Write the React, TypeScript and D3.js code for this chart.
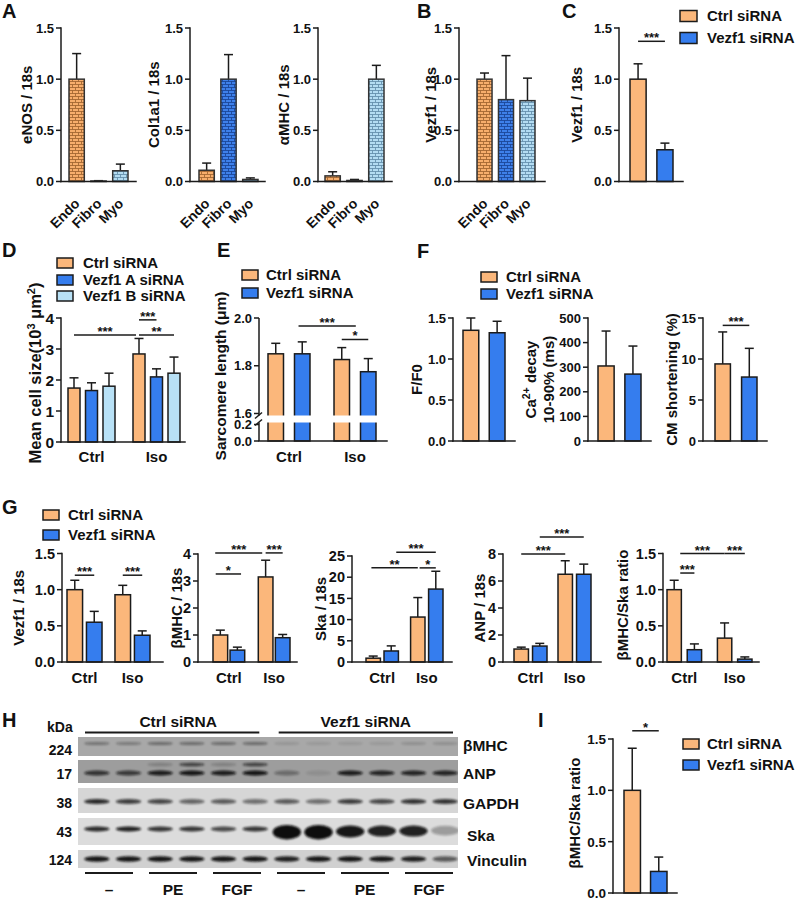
import React from 'react';
import * as d3 from 'd3';

const FONT = '"Liberation Sans", Arial, Helvetica, sans-serif';
const ORANGE = '#FBB77B';
const BLUE = '#357DEE';
const LIGHT = '#B8E1F6';
const INK = '#1b1b1b';

// ---------------- data ----------------
const cellTypes = ['Endo', 'Fibro', 'Myo'];
const eNOSMean = [1.0, 0.005, 0.105];
const eNOSSd = [0.25, 0.003, 0.065];
const col1a1Mean = [0.11, 1.0, 0.02];
const col1a1Sd = [0.07, 0.24, 0.015];
const aMHCMean = [0.055, 0.01, 1.0];
const aMHCSd = [0.04, 0.01, 0.135];
const vezf1CellMean = [1.0, 0.8, 0.79];
const vezf1CellSd = [0.06, 0.43, 0.22];

const siRNAs = ['Ctrl siRNA', 'Vezf1 siRNA'];
const cVezf1Mean = [1.0, 0.31];
const cVezf1Sd = [0.15, 0.065];

const treatments = ['Ctrl', 'Iso'];
const dSiRNAs = ['Ctrl siRNA', 'Vezf1 A siRNA', 'Vezf1 B siRNA'];
const dCtrlSi = [1.74, 2.84];
const dCtrlSiSd = [0.33, 0.5];
const dVezf1A = [1.66, 2.1];
const dVezf1ASd = [0.25, 0.26];
const dVezf1B = [1.8, 2.22];
const dVezf1BSd = [0.42, 0.52];

const eCtrlSi = [1.85, 1.826];
const eCtrlSiSd = [0.044, 0.05];
const eVezf1 = [1.85, 1.775];
const eVezf1Sd = [0.05, 0.055];

const fF0Mean = [1.35, 1.32];
const fF0Sd = [0.15, 0.14];
const caDecayMean = [305, 272];
const caDecaySd = [142, 114];
const cmShortMean = [9.4, 7.8];
const cmShortSd = [3.9, 3.5];

const gVezf1Ctrl = [1.0, 0.93];
const gVezf1CtrlSd = [0.13, 0.13];
const gVezf1Kd = [0.55, 0.37];
const gVezf1KdSd = [0.15, 0.06];
const gBmhcCtrl = [1.0, 3.15];
const gBmhcCtrlSd = [0.18, 0.62];
const gBmhcKd = [0.44, 0.9];
const gBmhcKdSd = [0.11, 0.12];
const gSkaCtrl = [0.9, 10.6];
const gSkaCtrlSd = [0.5, 4.6];
const gSkaKd = [2.6, 17.2];
const gSkaKdSd = [1.2, 4.2];
const gAnpCtrl = [0.96, 6.5];
const gAnpCtrlSd = [0.14, 1.0];
const gAnpKd = [1.18, 6.5];
const gAnpKdSd = [0.2, 0.75];
const gRatioCtrl = [1.0, 0.33];
const gRatioCtrlSd = [0.13, 0.21];
const gRatioKd = [0.17, 0.04];
const gRatioKdSd = [0.08, 0.03];

const iRatioMean = [1.0, 0.21];
const iRatioSd = [0.41, 0.14];

const ticks15 = [0, 0.5, 1, 1.5];
const ticksD = [0, 1, 2, 3, 4];
const ticksE = [0, 0.2, 1.6, 1.8, 2.0];
const ticksCa = [0, 100, 200, 300, 400, 500];
const ticksCm = [0, 5, 10, 15];
const ticksBmhc = [0, 1, 2, 3, 4];
const ticksSka = [0, 5, 10, 15, 20, 25];
const ticksAnp = [0, 2, 4, 6, 8];

// western blot
const blotTreatments = ['–', 'PE', 'FGF', '–', 'PE', 'FGF'];
const bMHCBand = [0.35, 0.3, 0.4, 0.4, 0.4, 0.4, 0.12, 0.1, 0.1, 0.1, 0.16, 0.16];
const anpBand = [0.75, 0.7, 0.9, 0.95, 0.9, 0.95, 0.35, 0.1, 0.9, 0.85, 0.85, 0.85];
const anpUpperBand = [0, 0, 0.2, 0.65, 0.2, 0.65, 0, 0, 0, 0, 0, 0];
const gapdhBand = [0.85, 0.75, 0.7, 0.55, 0.6, 0.5, 0.6, 0.5, 0.75, 0.7, 0.8, 0.8];
const skaBand = [0.85, 0.9, 0.8, 0.8, 0.7, 0.8, 1, 1, 0.95, 0.9, 0.9, 0.3];
const skaThickness = [1, 1, 1, 1, 1, 1, 3.0, 3.0, 2.5, 2.3, 2.3, 2.0];
const vinculinBand = [0.95, 0.95, 0.95, 0.95, 0.95, 0.95, 0.9, 0.95, 0.95, 0.95, 0.9, 0.6];

const fmt1 = d3.format('.1f');
const fmt0 = d3.format('d');

type Sig = [number, number, number, string];

interface ChartProps {
  axisX: number;
  axisEnd: number;
  y: d3.ScaleLinear<number, number>;
  ticks: number[];
  fmt: (v: number) => string;
  tickFs?: number;
  groups: string[];
  series: string[];
  means: number[][];
  sds: number[][];
  fills: string[];
  barStroke?: string;
  groupRange: [number, number];
  groupPad?: number;
  innerPad: number;
  sig?: Sig[];
  yLabel: React.ReactNode;
  yLabelX: number;
  yLabelY?: number;
  yLabel2?: React.ReactNode;
  yLabelX2?: number;
  labelFs?: number;
  xLabels?: 'group' | 'rotated';
  xLabelY?: number;
  xFs?: number;
  gap?: [number, number];
}

function Chart(p: ChartProps) {
  const outer = d3.scaleBand<string>().domain(p.groups).range(p.groupRange).paddingInner(p.groupPad ?? 0).paddingOuter(0);
  const inner = d3.scaleBand<string>().domain(p.series).range([0, outer.bandwidth()]).paddingInner(p.innerPad).paddingOuter(0);
  const bars = p.groups.flatMap((g, gi) =>
    p.series.map((s, si) => ({
      key: g + '|' + s,
      x: (outer(g) ?? 0) + (inner(s) ?? 0),
      w: inner.bandwidth(),
      v: p.means[si][gi],
      e: p.sds[si][gi],
      fill: p.fills[si],
      label: s,
    }))
  );
  const centers = bars.map((b) => b.x + b.w / 2);
  const at = d3.scaleLinear().domain(centers.map((_, i) => i)).range(centers);
  const y0 = p.y(0);
  const yT = p.y(p.ticks[p.ticks.length - 1]);
  const tfs = p.tickFs ?? 13;
  const lfs = p.labelFs ?? 15;
  const yLabelY = p.yLabelY ?? (y0 + yT) / 2;
  const gapY = p.gap ? [p.y(p.gap[1]), p.y(p.gap[0])] : null;
  const stroke = p.barStroke ?? INK;
  return (
    <g>
      {bars.map((b) => (
        <g key={'e' + b.key}>
          <line x1={b.x + b.w / 2} x2={b.x + b.w / 2} y1={p.y(b.v)} y2={p.y(b.v + b.e)} stroke={INK} strokeWidth={1.5} />
          <line x1={b.x + b.w / 2 - 4.5} x2={b.x + b.w / 2 + 4.5} y1={p.y(b.v + b.e)} y2={p.y(b.v + b.e)} stroke={INK} strokeWidth={1.5} />
        </g>
      ))}
      {bars.map((b) => (
        <rect key={b.key} x={b.x} y={p.y(b.v)} width={b.w} height={Math.max(0, y0 - p.y(b.v))} fill={b.fill} stroke={stroke} strokeWidth={1.5} />
      ))}
      {gapY && (
        <rect x={p.axisX - 8} y={gapY[0] + 2} width={p.axisEnd - p.axisX + 8} height={gapY[1] - gapY[0] - 4} fill="#fff" />
      )}
      {gapY ? (
        <g stroke={INK} strokeWidth={1.5}>
          <line x1={p.axisX} x2={p.axisX} y1={yT} y2={gapY[0] + 2} />
          <line x1={p.axisX} x2={p.axisX} y1={gapY[1] - 2} y2={y0} />
          <line x1={p.axisX - 4} x2={p.axisX + 3} y1={gapY[0] + 5} y2={gapY[0] - 1} />
          <line x1={p.axisX - 4} x2={p.axisX + 3} y1={gapY[1] + 1} y2={gapY[1] - 5} />
        </g>
      ) : (
        <line x1={p.axisX} x2={p.axisX} y1={yT} y2={y0} stroke={INK} strokeWidth={1.5} strokeLinecap="square" />
      )}
      {p.ticks.map((t) => (
        <g key={'t' + t}>
          <line x1={p.axisX - 5} x2={p.axisX} y1={p.y(t)} y2={p.y(t)} stroke={INK} strokeWidth={1.5} />
          <text x={p.axisX - 7} y={p.y(t)} dy="0.36em" textAnchor="end" fontSize={tfs}>
            {p.fmt(t)}
          </text>
        </g>
      ))}
      <line x1={p.axisX} x2={p.axisEnd} y1={y0} y2={y0} stroke={INK} strokeWidth={1.5} strokeLinecap="square" />
      {p.xLabels === 'rotated' &&
        bars.map((b) => (
          <text key={'xl' + b.key} transform={`translate(${b.x + b.w / 2 + 4},${y0 + 23}) rotate(-45)`} textAnchor="end" fontSize={p.xFs ?? 14}>
            {b.label}
          </text>
        ))}
      {p.xLabels === 'group' &&
        p.groups.map((g) => (
          <text key={'gl' + g} x={(outer(g) ?? 0) + outer.bandwidth() / 2} y={p.xLabelY} textAnchor="middle" fontSize={p.xFs ?? 15}>
            {g}
          </text>
        ))}
      <text transform={`translate(${p.yLabelX},${yLabelY}) rotate(-90)`} textAnchor="middle" dy="0.35em" fontSize={lfs}>
        {p.yLabel}
      </text>
      {p.yLabel2 && (
        <text transform={`translate(${p.yLabelX2},${yLabelY}) rotate(-90)`} textAnchor="middle" dy="0.35em" fontSize={lfs}>
          {p.yLabel2}
        </text>
      )}
      {(p.sig ?? []).map(([i, j, v, lab], k) => {
        const x1 = at(i);
        const x2 = at(j);
        const yy = p.y(v);
        return (
          <g key={'s' + k}>
            <line x1={x1} x2={x2} y1={yy} y2={yy} stroke={INK} strokeWidth={1.5} />
            <text x={(x1 + x2) / 2} y={yy + 1} textAnchor="middle" fontSize={13}>
              {lab}
            </text>
          </g>
        );
      })}
    </g>
  );
}

function Legend({ x, rows, items, tx, bw = 16, bh = 10, fs = 15 }: { x: number; rows: number[]; items: { label: string; fill: string }[]; tx: number; bw?: number; bh?: number; fs?: number }) {
  return (
    <g>
      {items.map((it, i) => (
        <g key={it.label}>
          <rect x={x} y={rows[i] - bh / 2} width={bw} height={bh} fill={it.fill} stroke={INK} strokeWidth={1.5} />
          <text x={tx} y={rows[i]} dy="0.36em" fontSize={fs}>
            {it.label}
          </text>
        </g>
      ))}
    </g>
  );
}

function Letter({ x, y, t }: { x: number; y: number; t: string }) {
  return (
    <text x={x} y={y} fontSize={20}>
      {t}
    </text>
  );
}

function Blot() {
  const lane = d3.scaleBand<number>().domain(d3.range(12)).range([81, 461]).paddingInner(0.2).paddingOuter(0.1);
  const treat = d3.scaleBand<number>().domain(d3.range(6)).range([85, 453]).paddingInner(0.25);
  const grp = d3.scaleBand<string>().domain(siRNAs).range([85, 453]).paddingInner(0.1);
  const ones = d3.range(12).map(() => 1);
  const strips = [
    { name: 'βMHC', kda: '224', y0: 737, y1: 756, bg: '#a8a8a8', cy: 743.5, ry: 1.6, vals: bMHCBand, th: ones, ly: 745.5, lx: 463, ky: 750 },
    { name: 'ANP', kda: '17', y0: 760, y1: 783, bg: '#9d9d9d', cy: 773, ry: 2.6, vals: anpBand, th: ones, ly: 773.5, lx: 463, ky: 774 },
    { name: 'GAPDH', kda: '38', y0: 788, y1: 813, bg: '#d6d6d6', cy: 801.5, ry: 2.6, vals: gapdhBand, th: ones, ly: 803, lx: 463, ky: 803 },
    { name: 'Ska', kda: '43', y0: 818, y1: 845, bg: '#dcdcdc', cy: 829, ry: 2.4, vals: skaBand, th: skaThickness, ly: 835, lx: 467, ky: 832 },
    { name: 'Vinculin', kda: '124', y0: 850, y1: 868, bg: '#d0d0d0', cy: 859, ry: 2.8, vals: vinculinBand, th: ones, ly: 860.5, lx: 467, ky: 860 },
  ];
  return (
    <g>
      <defs>
        {strips.map((s, i) => (
          <clipPath id={'clip' + i} key={'c' + i}>
            <rect x={78} y={s.y0} width={380} height={s.y1 - s.y0} />
          </clipPath>
        ))}
      </defs>
      <text x={47} y={732} fontSize={14}>
        kDa
      </text>
      {siRNAs.map((g, i) => (
        <g key={g}>
          <text x={(grp(g) ?? 0) + grp.bandwidth() / 2 + (i === 0 ? 6 : 0)} y={727} textAnchor="middle" fontSize={15.5}>
            {g}
          </text>
          <line x1={grp(g)} x2={(grp(g) ?? 0) + grp.bandwidth()} y1={732.5} y2={732.5} stroke={INK} strokeWidth={2} />
        </g>
      ))}
      {strips.map((s, si) => (
        <g key={s.name}>
          <rect x={78} y={s.y0} width={380} height={s.y1 - s.y0} fill={s.bg} />
          <g clipPath={`url(#clip${si})`}>
            {s.vals.map((v, i) => (
              <ellipse
                key={i}
                cx={(lane(i) ?? 0) + lane.bandwidth() / 2}
                cy={s.cy + (s.th[i] - 1) * 1.6}
                rx={lane.bandwidth() / 2 + (s.th[i] > 1 ? 1.5 : 0)}
                ry={s.ry * s.th[i]}
                fill="#0c0c0c"
                opacity={v}
                filter="url(#blur)"
              />
            ))}
            {s.name === 'ANP' &&
              anpUpperBand.map((v, i) => (
                <ellipse key={'u' + i} cx={(lane(i) ?? 0) + lane.bandwidth() / 2} cy={764.5} rx={lane.bandwidth() / 2} ry={1.8} fill="#0c0c0c" opacity={v} filter="url(#blur)" />
              ))}
          </g>
          <text x={72} y={s.ky} dy="0.36em" textAnchor="end" fontSize={14}>
            {s.kda}
          </text>
          <text x={s.lx} y={s.ly} dy="0.36em" fontSize={15.5}>
            {s.name}
          </text>
        </g>
      ))}
      {blotTreatments.map((t, i) => (
        <g key={'tr' + i}>
          <line x1={treat(i)} x2={(treat(i) ?? 0) + treat.bandwidth()} y1={873} y2={873} stroke={INK} strokeWidth={2} />
          <text x={(treat(i) ?? 0) + treat.bandwidth() / 2} y={895} textAnchor="middle" fontSize={15.5}>
            {t}
          </text>
        </g>
      ))}
    </g>
  );
}

const single = (arr: number[]) => arr.map((v) => [v]);

export default function App() {
  const yABC = d3.scaleLinear().domain([0, 1.5]).range([181.5, 28]);
  const yD = d3.scaleLinear().domain([0, 4]).range([442, 318]);
  const yE = d3.scaleLinear().domain([0, 0.2, 1.6, 2.0]).range([441, 424.5, 413.5, 318]);
  const yF = d3.scaleLinear().domain([0, 1.5]).range([441, 318]);
  const yCa = d3.scaleLinear().domain([0, 500]).range([441, 318]);
  const yCm = d3.scaleLinear().domain([0, 15]).range([441, 318]);
  const yG15 = d3.scaleLinear().domain([0, 1.5]).range([662, 553.5]);
  const yGB = d3.scaleLinear().domain([0, 4]).range([662, 554]);
  const yGS = d3.scaleLinear().domain([0, 25]).range([662, 556]);
  const yGA = d3.scaleLinear().domain([0, 8]).range([662, 554]);
  const yI = d3.scaleLinear().domain([0, 1.5]).range([893, 739]);

  const cellFills = ['url(#brickO)', 'url(#brickB)', 'url(#brickL)'];
  const two = [ORANGE, BLUE];
  const three = [ORANGE, BLUE, LIGHT];
  const siLegend = siRNAs.map((l, i) => ({ label: l, fill: two[i] }));
  const gTick = 14.5;

  return (
    <svg width={800} height={899} style={{ position: 'absolute', left: 0, top: 0 }} fontFamily={FONT} fontWeight="bold" fill="#111">
      <defs>
        <pattern id="brickO" width={6} height={6} patternUnits="userSpaceOnUse">
          <rect width={6} height={6} fill="#F7AE6C" />
          <path d="M0 0.5H6M0 3.5H6M0.5 0.5V3.5M3.5 3.5V6.5" stroke="#9A5F2B" strokeWidth={0.8} fill="none" />
        </pattern>
        <pattern id="brickB" width={6} height={6} patternUnits="userSpaceOnUse">
          <rect width={6} height={6} fill="#3E80EA" />
          <path d="M0 0.5H6M0 3.5H6M0.5 0.5V3.5M3.5 3.5V6.5" stroke="#17408F" strokeWidth={0.8} fill="none" />
        </pattern>
        <pattern id="brickL" width={6} height={6} patternUnits="userSpaceOnUse">
          <rect width={6} height={6} fill="#B3DCF2" />
          <path d="M0 0.5H6M0 3.5H6M0.5 0.5V3.5M3.5 3.5V6.5" stroke="#5C88A6" strokeWidth={0.8} fill="none" />
        </pattern>
        <filter id="blur" x="-30%" y="-100%" width="160%" height="300%">
          <feGaussianBlur stdDeviation={1.3} />
        </filter>
      </defs>
      <rect width={800} height={899} fill="#fff" />

      {/* ---------- A ---------- */}
      <Letter x={2} y={18} t="A" />
      <Chart axisX={61} axisEnd={136} y={yABC} ticks={ticks15} fmt={fmt1} groups={['']} series={cellTypes} means={single(eNOSMean)} sds={single(eNOSSd)} fills={cellFills} barStroke="#333" groupRange={[69, 128]} innerPad={0.3} yLabel="eNOS / 18s" yLabelX={27} xLabels="rotated" />
      <Chart axisX={190} axisEnd={265} y={yABC} ticks={ticks15} fmt={fmt1} groups={['']} series={cellTypes} means={single(col1a1Mean)} sds={single(col1a1Sd)} fills={cellFills} barStroke="#333" groupRange={[199, 258]} innerPad={0.3} yLabel="Col1a1 / 18s" yLabelX={154} xLabels="rotated" />
      <Chart axisX={318} axisEnd={392} y={yABC} ticks={ticks15} fmt={fmt1} groups={['']} series={cellTypes} means={single(aMHCMean)} sds={single(aMHCSd)} fills={cellFills} barStroke="#333" groupRange={[325, 384]} innerPad={0.3} yLabel="αMHC / 18s" yLabelX={284} xLabels="rotated" />

      {/* ---------- B ---------- */}
      <Letter x={417} y={18} t="B" />
      <Chart axisX={459} axisEnd={545} y={yABC} ticks={ticks15} fmt={fmt1} groups={['']} series={cellTypes} means={single(vezf1CellMean)} sds={single(vezf1CellSd)} fills={cellFills} barStroke="#333" groupRange={[477, 535]} innerPad={0.3} yLabel="Vezf1 / 18s" yLabelX={431} xLabels="rotated" />

      {/* ---------- C ---------- */}
      <Letter x={562} y={18} t="C" />
      <Chart axisX={619} axisEnd={683} y={yABC} ticks={ticks15} fmt={fmt1} groups={['']} series={siRNAs} means={single(cVezf1Mean)} sds={single(cVezf1Sd)} fills={two} groupRange={[630, 673]} innerPad={0.4} yLabel="Vezf1 / 18s" yLabelX={577} sig={[[0, 1, 1.37, '***']]} />
      <Legend x={680} rows={[16, 38]} items={siLegend} tx={707} bw={17} bh={11} />

      {/* ---------- D ---------- */}
      <Letter x={2} y={257} t="D" />
      <Legend x={57} rows={[263, 280, 296]} items={dSiRNAs.map((l, i) => ({ label: l, fill: three[i] }))} tx={83} />
      <Chart
        axisX={61}
        axisEnd={185}
        y={yD}
        ticks={ticksD}
        fmt={fmt0}
        tickFs={15.5}
        groups={treatments}
        series={dSiRNAs}
        means={[dCtrlSi, dVezf1A, dVezf1B]}
        sds={[dCtrlSiSd, dVezf1ASd, dVezf1BSd]}
        fills={three}
        groupRange={[68, 180]}
        groupPad={0.277}
        innerPad={0.314}
        yLabel={
          <>
            Mean cell size(10
            <tspan dy={-6} fontSize={11}>
              3
            </tspan>
            <tspan dy={6}> μm</tspan>
            <tspan dy={-6} fontSize={11}>
              2
            </tspan>
            <tspan dy={6}>)</tspan>
          </>
        }
        yLabelX={35}
        yLabelY={373}
        labelFs={16.5}
        xLabels="group"
        xLabelY={462}
        sig={[
          [0, 2.9, 3.45, '***'],
          [3, 4, 3.94, '***'],
          [3, 5, 3.45, '**'],
        ]}
      />

      {/* ---------- E ---------- */}
      <Letter x={217} y={257} t="E" />
      <Legend x={242} rows={[275, 293]} items={siLegend} tx={266} />
      <Chart
        axisX={259}
        axisEnd={387}
        y={yE}
        ticks={ticksE}
        fmt={fmt1}
        groups={treatments}
        series={siRNAs}
        means={[eCtrlSi, eVezf1]}
        sds={[eCtrlSiSd, eVezf1Sd]}
        fills={two}
        groupRange={[268, 376]}
        groupPad={0.364}
        innerPad={0.415}
        yLabel="Sarcomere length (μm)"
        yLabelX={221}
        yLabelY={376}
        labelFs={15.5}
        xLabels="group"
        xLabelY={462}
        gap={[0.2, 1.6]}
        sig={[
          [0.86, 2.53, 1.967, '***'],
          [2, 3, 1.91, '*'],
        ]}
      />

      {/* ---------- F ---------- */}
      <Letter x={417} y={258} t="F" />
      <Legend x={481} rows={[277, 294]} items={siLegend} tx={506} />
      <Chart axisX={453} axisEnd={515} y={yF} ticks={ticks15} fmt={fmt1} groups={['']} series={siRNAs} means={single(fF0Mean)} sds={single(fF0Sd)} fills={two} groupRange={[463, 505]} innerPad={0.4} yLabel="F/F0" yLabelX={417} />
      <Chart
        axisX={588}
        axisEnd={651}
        y={yCa}
        ticks={ticksCa}
        fmt={fmt0}
        groups={['']}
        series={siRNAs}
        means={single(caDecayMean)}
        sds={single(caDecaySd)}
        fills={two}
        groupRange={[598, 641]}
        innerPad={0.4}
        yLabel={
          <>
            Ca
            <tspan dy={-6} fontSize={10.5}>
              2+
            </tspan>
            <tspan dy={6}> decay</tspan>
          </>
        }
        yLabelX={531}
        yLabel2="10-90% (ms)"
        yLabelX2={549}
      />
      <Chart axisX={703} axisEnd={767} y={yCm} ticks={ticksCm} fmt={fmt0} groups={['']} series={siRNAs} means={single(cmShortMean)} sds={single(cmShortSd)} fills={two} groupRange={[715, 757]} innerPad={0.42} yLabel="CM shortening (%)" yLabelX={672} sig={[[0, 1, 14.1, '***']]} />

      {/* ---------- G ---------- */}
      <Letter x={2} y={514} t="G" />
      <Legend x={43} rows={[515, 535]} items={siLegend} tx={68} />
      <Chart axisX={62} axisEnd={163} y={yG15} ticks={ticks15} fmt={fmt1} tickFs={gTick} groups={treatments} series={siRNAs} means={[gVezf1Ctrl, gVezf1Kd]} sds={[gVezf1CtrlSd, gVezf1KdSd]} fills={two} groupRange={[67, 150]} groupPad={0.27} innerPad={0.2} yLabel="Vezf1 / 18s" yLabelX={19} xLabels="group" xLabelY={683} sig={[[0, 1, 1.2, '***'], [2, 3, 1.2, '***']]} />
      <Chart axisX={198} axisEnd={297} y={yGB} ticks={ticksBmhc} fmt={fmt0} tickFs={gTick} groups={treatments} series={siRNAs} means={[gBmhcCtrl, gBmhcKd]} sds={[gBmhcCtrlSd, gBmhcKdSd]} fills={two} groupRange={[213, 290]} groupPad={0.3} innerPad={0.14} yLabel="βMHC / 18s" yLabelX={177} xLabels="group" xLabelY={683} sig={[[-0.3, 1.88, 4.04, '***'], [2, 3, 4.04, '***'], [-0.27, 1.13, 3.26, '*']]} />
      <Chart axisX={352} axisEnd={452} y={yGS} ticks={ticksSka} fmt={fmt0} tickFs={gTick} groups={treatments} series={siRNAs} means={[gSkaCtrl, gSkaKd]} sds={[gSkaCtrlSd, gSkaKdSd]} fills={two} groupRange={[366, 443]} groupPad={0.273} innerPad={0.2} yLabel="Ska / 18s" yLabelX={321} xLabels="group" xLabelY={683} sig={[[1.19, 3, 25.9, '***'], [-0.1, 2, 22.2, '**'], [2.1, 3, 22.2, '*']]} />
      <Chart axisX={503} axisEnd={601} y={yGA} ticks={ticksAnp} fmt={fmt0} tickFs={gTick} groups={treatments} series={siRNAs} means={[gAnpCtrl, gAnpKd]} sds={[gAnpCtrlSd, gAnpKdSd]} fills={two} groupRange={[514, 591]} groupPad={0.25} innerPad={0.22} yLabel="ANP / 18s" yLabelX={480} xLabels="group" xLabelY={683} sig={[[0, 2, 8.0, '***'], [1, 3, 9.26, '***']]} />
      <Chart axisX={663} axisEnd={759} y={yG15} ticks={ticks15} fmt={fmt1} tickFs={gTick} groups={treatments} series={siRNAs} means={[gRatioCtrl, gRatioKd]} sds={[gRatioCtrlSd, gRatioKdSd]} fills={two} groupRange={[667, 752]} groupPad={0.314} innerPad={0.29} yLabel="βMHC/Ska ratio" yLabelX={623} yLabelY={605} xLabels="group" xLabelY={683} sig={[[0.3, 2, 1.5, '***'], [2, 3, 1.5, '***'], [0.3, 1, 1.23, '***']]} />

      {/* ---------- H ---------- */}
      <Letter x={2} y={727} t="H" />
      <Blot />

      {/* ---------- I ---------- */}
      <Letter x={538} y={727} t="I" />
      <Chart axisX={613} axisEnd={677} y={yI} ticks={ticks15} fmt={fmt1} tickFs={13.5} groups={['']} series={siRNAs} means={single(iRatioMean)} sds={single(iRatioSd)} fills={two} groupRange={[624, 667]} innerPad={0.38} yLabel="βMHC/Ska ratio" yLabelX={575} yLabelY={813} sig={[[0, 1, 1.58, '*']]} />
      <Legend x={683} rows={[744, 765]} items={siLegend} tx={707} />
    </svg>
  );
}
